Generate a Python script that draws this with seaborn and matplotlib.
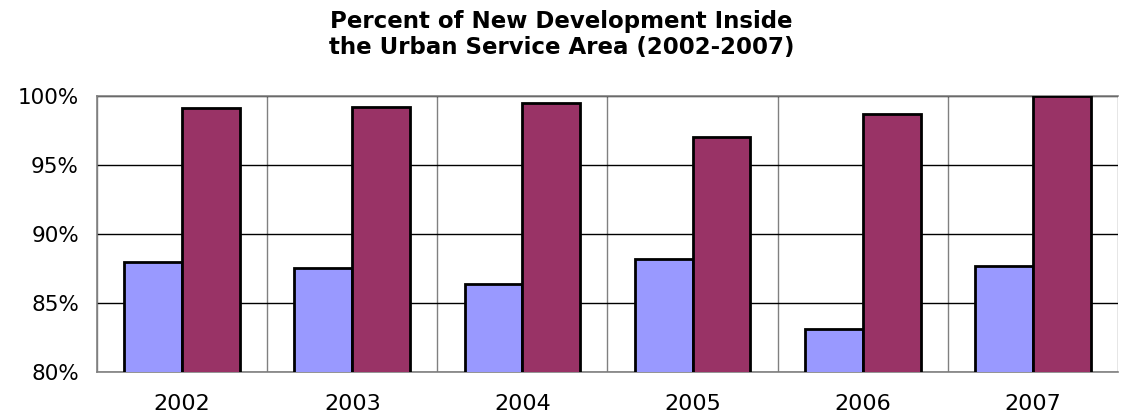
import numpy as np
import pandas as pd
import matplotlib.pyplot as plt
import seaborn as sns
from matplotlib.ticker import FuncFormatter, FixedLocator

# -----------------------------
# Data
# -----------------------------
years = ["2002", "2003", "2004", "2005", "2006", "2007"]
series_a = [88.0, 87.5, 86.4, 88.2, 83.1, 87.7]
series_b = [99.1, 99.2, 99.5, 97.0, 98.7, 100.0]
series_names = ["Series A", "Series B"]
colors = ["#9999FF", "#993366"]

df = pd.DataFrame({
    "year": years * 2,
    "pct": series_a + series_b,
    "series": [series_names[0]] * len(years) + [series_names[1]] * len(years),
})

# -----------------------------
# Plot
# -----------------------------
sns.set_style("white")
plt.rcParams["font.family"] = ["DejaVu Sans"]
plt.rcParams["text.color"] = "black"
plt.rcParams["xtick.color"] = "black"
plt.rcParams["ytick.color"] = "black"

fig = plt.figure(figsize=(11.23, 4.19), dpi=100)
ax = fig.add_axes([0.0864, 0.1122, 0.9091, 0.6587])

sns.barplot(
    data=df, x="year", y="pct", hue="series",
    palette=colors, saturation=1, width=0.68,
    edgecolor="black", linewidth=2,
    legend=False, ax=ax, zorder=3,
)

ax.set_ylim(80, 100)
ax.set_xlim(-0.5, len(years) - 0.5)
ax.set_yticks([80, 85, 90, 95, 100])
ax.yaxis.set_major_formatter(FuncFormatter(lambda v, _: f"{v:.0f}%"))

# horizontal gridlines
ax.yaxis.grid(True, color="black", linewidth=1)
# vertical separators between categories
seps = np.arange(-0.5, len(years), 1.0)
ax.xaxis.set_minor_locator(FixedLocator(seps))
ax.xaxis.grid(True, which="minor", color="#808080", linewidth=1)
ax.tick_params(axis="x", which="major", length=0, labelsize=16, labelcolor="black", pad=16)
ax.tick_params(axis="x", which="minor", length=8, width=1, color="#808080")
ax.tick_params(axis="y", length=0, labelsize=15.5, labelcolor="black", pad=13)
ax.set_axisbelow(True)

for s in ["top", "left", "bottom", "right"]:
    ax.spines[s].set_color("#808080")
    ax.spines[s].set_linewidth(1.2)
ax.spines["right"].set_visible(False)

ax.set_xlabel("")
ax.set_ylabel("")

fig.text(0.5, 0.918, "Percent of New Development Inside\nthe Urban Service Area (2002-2007)",
         ha="center", va="center", fontsize=16.5, fontweight="bold",
         color="black", linespacing=1.17)

fig.savefig("out.png", dpi=100)
